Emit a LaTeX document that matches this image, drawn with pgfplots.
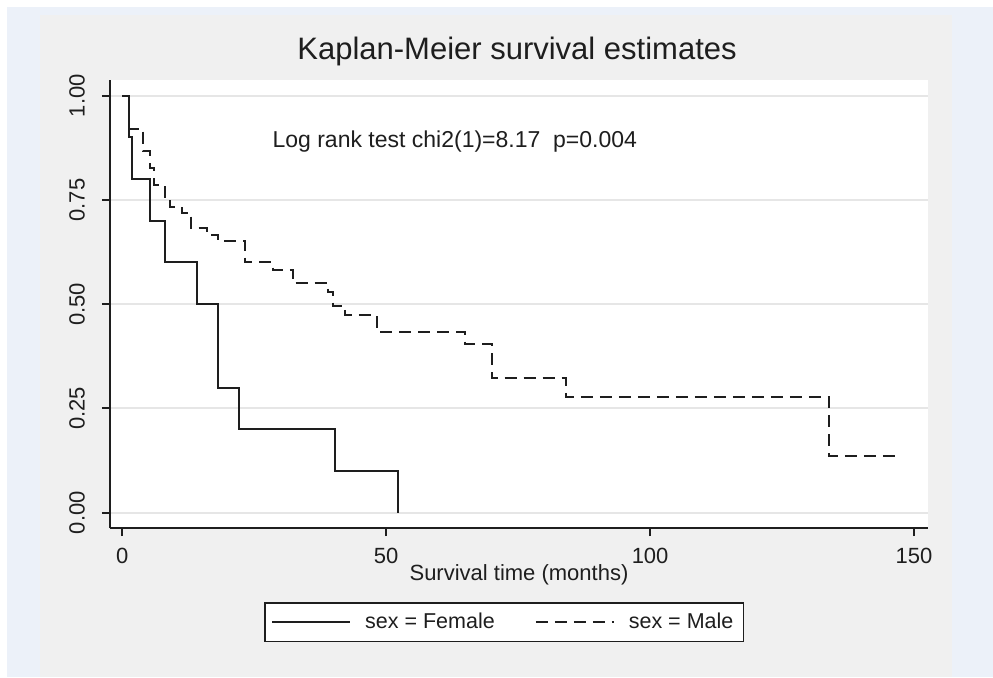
\documentclass[border=0pt]{standalone}
\usepackage{pgfplots}
\pgfplotsset{compat=1.18}
\usepackage{fontspec}
\setmainfont{Liberation Sans}
\definecolor{bgblue}{RGB}{236,241,249}
\definecolor{bggray}{RGB}{240,240,240}
\definecolor{gridgray}{RGB}{230,230,230}
\definecolor{ink}{RGB}{30,30,30}
\newcommand{\smallfont}{\fontsize{11}{13}\selectfont}
\begin{document}
\begin{tikzpicture}[x=0.5pt,y=0.5pt]
\fill[white] (-110,528) rectangle (883,-149);
\fill[bgblue] (-103,521) rectangle (883,-149);
\fill[bggray] (-70,513) rectangle (842,-149);
\begin{axis}[
  at={(0pt,0pt)}, anchor=south west,
  scale only axis, width=409pt, height=224pt,
  xmin=-2.33, xmax=152.65, ymin=-0.0367, ymax=1.0376,
  axis x line*=bottom, axis y line*=left,
  axis line style={line width=1pt, ink},
  tick style={line width=1pt, ink},
  tick align=outside, major tick length=4pt,
  xtick={0,50,100,150}, ytick={0,0.25,0.5,0.75,1},
  /pgf/number format/assume math mode=true,
  tick label style={font=\smallfont, text=ink},
  xticklabel shift=2.5pt, yticklabel shift=5pt,
  y tick label style={/pgf/number format/.cd, fixed, fixed zerofill, precision=2, /tikz/.cd, rotate=90, anchor=south},
  ymajorgrids, major grid style={gridgray, line width=1pt},
  axis background/.style={fill=white},
  xlabel={Survival time (months)},
  xlabel style={font=\smallfont, text=ink, at={(axis description cs:0.5,-0.105)}, anchor=center},
  title={Kaplan-Meier survival estimates},
  title style={font=\fontsize{15.5}{18}\selectfont, text=ink, at={(axis description cs:0.4976,1.018)}, anchor=base},
  legend style={at={(axis description cs:0.482,-0.21)}, anchor=center, draw=ink, line width=0.75pt, fill=white,
    font=\fontsize{10.75}{13}\selectfont, text=ink, inner xsep=3pt, inner ysep=3pt,
    /tikz/every odd column/.append style={column sep=5pt},
    /tikz/every even column/.append style={column sep=18pt}},
  legend columns=2,
  legend image code/.code={\draw[#1] (0pt,0pt) -- (39pt,0pt);},
]
\addplot[const plot, ink, line width=1pt] coordinates {
(0,1) (1.33,0.9) (1.9,0.8) (5.25,0.7) (8,0.6) (14.2,0.5) (18.1,0.3) (22.2,0.2) (40.3,0.1) (52.3,0)};
\addplot[const plot, ink, line width=1pt, dash pattern=on 6pt off 3.5pt] coordinates {
(0,1) (1.33,0.92) (4.0,0.868) (5.25,0.826) (6,0.786) (8,0.757) (9,0.734) (11.3,0.718) (13.1,0.682)
(16,0.666) (18.1,0.652) (23.3,0.60) (28.6,0.582) (32.3,0.55) (39,0.53) (40,0.496) (42.2,0.474)
(48.2,0.434) (65,0.405) (70,0.322) (84.1,0.277) (133.8,0.136) (146.8,0.136)};
\legend{sex = Female, sex = Male}
\node[anchor=west, font=\fontsize{11.5}{13}\selectfont, text=ink, inner sep=0pt] at (axis cs:28.4,0.891) {Log rank test chi2(1)=8.17\ \ p=0.004};
\end{axis}
\pgfresetboundingbox
\path (-110,528) rectangle (883,-149);
\end{tikzpicture}
\end{document}
